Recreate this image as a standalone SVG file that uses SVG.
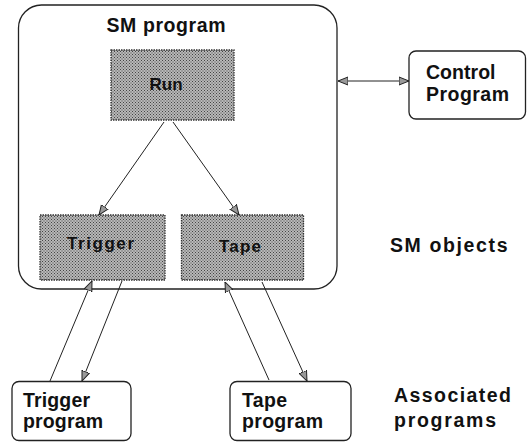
<svg xmlns="http://www.w3.org/2000/svg" width="527" height="443" viewBox="0 0 527 443">
<style>
.txt{font-family:"Liberation Sans",Arial,sans-serif;font-weight:bold;fill:#111;}
.big{font-size:19.5px;}
.inb{font-size:17px;}
.plain{fill:#fff;stroke:#222;stroke-width:1.3;}
.obj{fill:url(#hatch);stroke:#333;stroke-width:1.3;stroke-dasharray:1.5 1;}
.con{stroke:#222;stroke-width:1;fill:none;marker-end:url(#ah);}
</style>
<defs>
<pattern id="hatch" width="3" height="3" patternUnits="userSpaceOnUse">
<rect width="3" height="3" fill="#b8b8b8"/>
<rect x="0" y="0" width="1" height="1" fill="#444"/>
<rect x="1.5" y="1.5" width="1" height="1" fill="#444"/>
</pattern>
<marker id="ah" viewBox="0 0 10 10" refX="10" refY="5" markerWidth="10" markerHeight="10" markerUnits="userSpaceOnUse" orient="auto-start-reverse">
<path d="M0,1 L10,5 L0,9 z" fill="#999" stroke="#222" stroke-width="1"/>
</marker>
</defs>
<g id="sm_program">
<rect class="plain" x="18.5" y="5" width="318.5" height="284" rx="23" ry="23"/>
<text class="txt big" x="166" y="32" text-anchor="middle" textLength="119" lengthAdjust="spacing">SM program</text>
</g>
<g id="run">
<rect class="obj" x="111" y="50" width="123" height="70"/>
<text class="txt inb" x="166" y="90" text-anchor="middle">Run</text>
</g>
<g id="trigger">
<rect class="obj" x="40" y="215" width="125" height="65"/>
<text class="txt inb" x="100.5" y="249" text-anchor="middle" textLength="67" lengthAdjust="spacing">Trigger</text>
</g>
<g id="tape">
<rect class="obj" x="181.5" y="215" width="122" height="65"/>
<text class="txt inb" x="240" y="252" text-anchor="middle" textLength="42" lengthAdjust="spacing">Tape</text>
</g>
<g id="control_program">
<rect class="plain" x="409" y="51" width="116.5" height="68" rx="7" ry="7"/>
<text class="txt big" x="426" y="79" textLength="69.5" lengthAdjust="spacing">Control</text>
<text class="txt big" x="426" y="101" textLength="83" lengthAdjust="spacing">Program</text>
</g>
<g id="trigger_program">
<rect class="plain" x="12" y="381.5" width="119" height="59" rx="7" ry="7"/>
<text class="txt big" x="23" y="407" textLength="67" lengthAdjust="spacing">Trigger</text>
<text class="txt big" x="23" y="428" textLength="80" lengthAdjust="spacing">program</text>
</g>
<g id="tape_program">
<rect class="plain" x="230" y="381.5" width="121" height="59" rx="7" ry="7"/>
<text class="txt big" x="242" y="407" textLength="45" lengthAdjust="spacing">Tape</text>
<text class="txt big" x="242" y="428" textLength="81" lengthAdjust="spacing">program</text>
</g>
<g id="labels">
<text class="txt big" x="390" y="252" textLength="117.5" lengthAdjust="spacing">SM objects</text>
<text class="txt big" x="394" y="402" textLength="117" lengthAdjust="spacing">Associated</text>
<text class="txt big" x="394" y="427" textLength="102" lengthAdjust="spacing">programs</text>
</g>
<g id="connectors">
<line class="con" x1="164" y1="122" x2="99" y2="215"/>
<line class="con" x1="173" y1="122" x2="239" y2="215"/>
<line class="con" x1="338" y1="81" x2="409" y2="81" marker-start="url(#ah)"/>
<line class="con" x1="50" y1="381" x2="92" y2="281"/>
<line class="con" x1="122" y1="281" x2="82" y2="381"/>
<line class="con" x1="269" y1="380" x2="225" y2="282"/>
<line class="con" x1="262" y1="282" x2="307" y2="381"/>
</g>
</svg>
